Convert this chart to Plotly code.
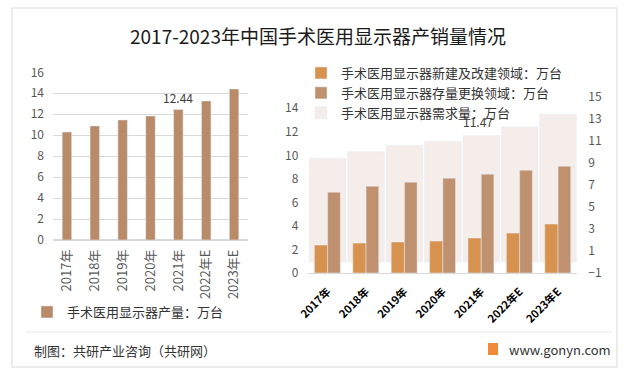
import plotly.graph_objects as go

years = ["2017年", "2018年", "2019年", "2020年", "2021年", "2022年E", "2023年E"]
production = [10.3, 10.88, 11.45, 11.83, 12.44, 13.26, 14.4]
new_build = [2.37, 2.54, 2.63, 2.71, 2.97, 3.39, 4.16]
replacement = [6.87, 7.38, 7.72, 8.06, 8.40, 8.74, 9.08]
demand = [9.4, 10.0, 10.55, 10.95, 11.47, 12.25, 13.4]

W, H = 630, 375
FONT = "Noto Sans CJK SC"


def px(x):
    return x / W


def py(y):
    return 1 - y / H


fig = go.Figure()

# Left chart: production
fig.add_trace(go.Bar(
    x=years, y=production, name="手术医用显示器产量：万台",
    marker_color="#b98b68", width=0.34, xaxis="x", yaxis="y",
    legend="legend2", hoverinfo="x+y",
))

# Right chart: demand (behind), new build and replacement (front)
fig.add_trace(go.Bar(
    x=years, y=demand, name="手术医用显示器需求量：万台",
    marker_color="#f4edea", width=0.955, xaxis="x2", yaxis="y3",
    legend="legend", legendrank=3,
))
fig.add_trace(go.Bar(
    x=years, y=new_build, name="手术医用显示器新建及改建领域：万台",
    marker_color="#d8924f", width=0.345, offset=-0.345, xaxis="x2", yaxis="y4",
    legend="legend", legendrank=1,
))
fig.add_trace(go.Bar(
    x=years, y=replacement, name="手术医用显示器存量更换领域：万台",
    marker_color="#c0916f", width=0.33, offset=0, xaxis="x2", yaxis="y4",
    legend="legend", legendrank=2,
))

tick_font = dict(family=FONT, size=12, color="#595959")

fig.update_layout(
    width=W, height=H,
    margin=dict(l=0, r=0, t=0, b=0, autoexpand=False),
    paper_bgcolor="white", plot_bgcolor="rgba(0,0,0,0)",
    font=dict(family=FONT, size=13, color="#333333"),
    barmode="overlay",
    xaxis=dict(domain=[px(53), px(248)], anchor="y", tickangle=-90, automargin=False,
               tickfont=dict(family=FONT, size=13, color="#595959"),
               ticklabelstandoff=6,
               showline=False, ticks="", showgrid=False),
    yaxis=dict(domain=[py(240), py(72.3)], anchor="x", range=[0, 16], dtick=2,
               automargin=False,
               gridcolor="#d9d9d9", zeroline=True, zerolinecolor="#d9d9d9",
               tickfont=tick_font, ticklabelstandoff=8),
    xaxis2=dict(domain=[px(308.45), px(577.25)], anchor="y3", tickangle=-45,
                automargin=False, ticklabelstandoff=7,
                tickfont=dict(family=FONT, size=11, color="#000000", weight="bold"),
                showline=True, linecolor="#d9d9d9", ticks="", showgrid=False),
    yaxis3=dict(domain=[py(273), py(96.5)], anchor="x2", side="right",
                automargin=False,
                range=[-1, 15], tick0=-1, dtick=2, showgrid=False, zeroline=False,
                tickfont=tick_font, ticklabelstandoff=10),
    yaxis4=dict(overlaying="y3", anchor="x2", side="left", range=[0, 15],
                automargin=False,
                dtick=2, showgrid=False, zeroline=False, tickfont=tick_font,
                ticklabelstandoff=9),
    legend=dict(x=px(301), y=py(58), xanchor="left", yanchor="top",
                bgcolor="rgba(0,0,0,0)", font=dict(family=FONT, size=13, color="#333333"),
                itemwidth=30, tracegroupgap=0, traceorder="normal"),
    legend2=dict(x=px(27), y=py(297), xanchor="left", yanchor="top",
                 bgcolor="rgba(0,0,0,0)", font=dict(family=FONT, size=13, color="#333333"),
                 itemwidth=30),
    showlegend=True,
)

fig.add_annotation(text="2017-2023年中国手术医用显示器产销量情况", x=px(318), y=py(36),
                   xref="paper", yref="paper", xanchor="center", yanchor="middle",
                   showarrow=False,
                   font=dict(family=FONT, size=19, color="#1a1a1a"))
fig.add_annotation(text="12.44", x=years[4], y=production[4], xref="x", yref="y",
                   yshift=12, showarrow=False, font=dict(family=FONT, size=12, color="#404040"))
fig.add_annotation(text="11.47", x=years[4], y=demand[4], xref="x2", yref="y3",
                   yshift=14, xshift=-3, showarrow=False,
                   font=dict(family=FONT, size=12, color="#404040"))
fig.add_annotation(text="制图：共研产业咨询（共研网）", x=px(32), y=py(350), xref="paper",
                   yref="paper", xanchor="left", yanchor="middle", showarrow=False,
                   font=dict(family=FONT, size=13, color="#333333"))
fig.add_annotation(text="www.gonyn.com", x=px(507), y=py(349), xref="paper",
                   yref="paper", xanchor="left", yanchor="middle", showarrow=False,
                   font=dict(family=FONT, size=13, color="#333333"))

fig.add_shape(type="rect", xref="paper", yref="paper", x0=px(12), x1=px(617),
              y0=py(367), y1=py(8), line=dict(color="#d9d9d9", width=1))
fig.add_shape(type="line", xref="paper", yref="paper", x0=px(26), x1=px(612),
              y0=py(332), y1=py(332), line=dict(color="#e6e6e6", width=1))
fig.add_shape(type="rect", xref="paper", yref="paper", x0=px(488), x1=px(498),
              y0=py(355), y1=py(343), line=dict(width=0), fillcolor="#f08a3a")

fig.write_html("out.html", config={"displayModeBar": False},
               post_script="document.body.style.margin='0';")
